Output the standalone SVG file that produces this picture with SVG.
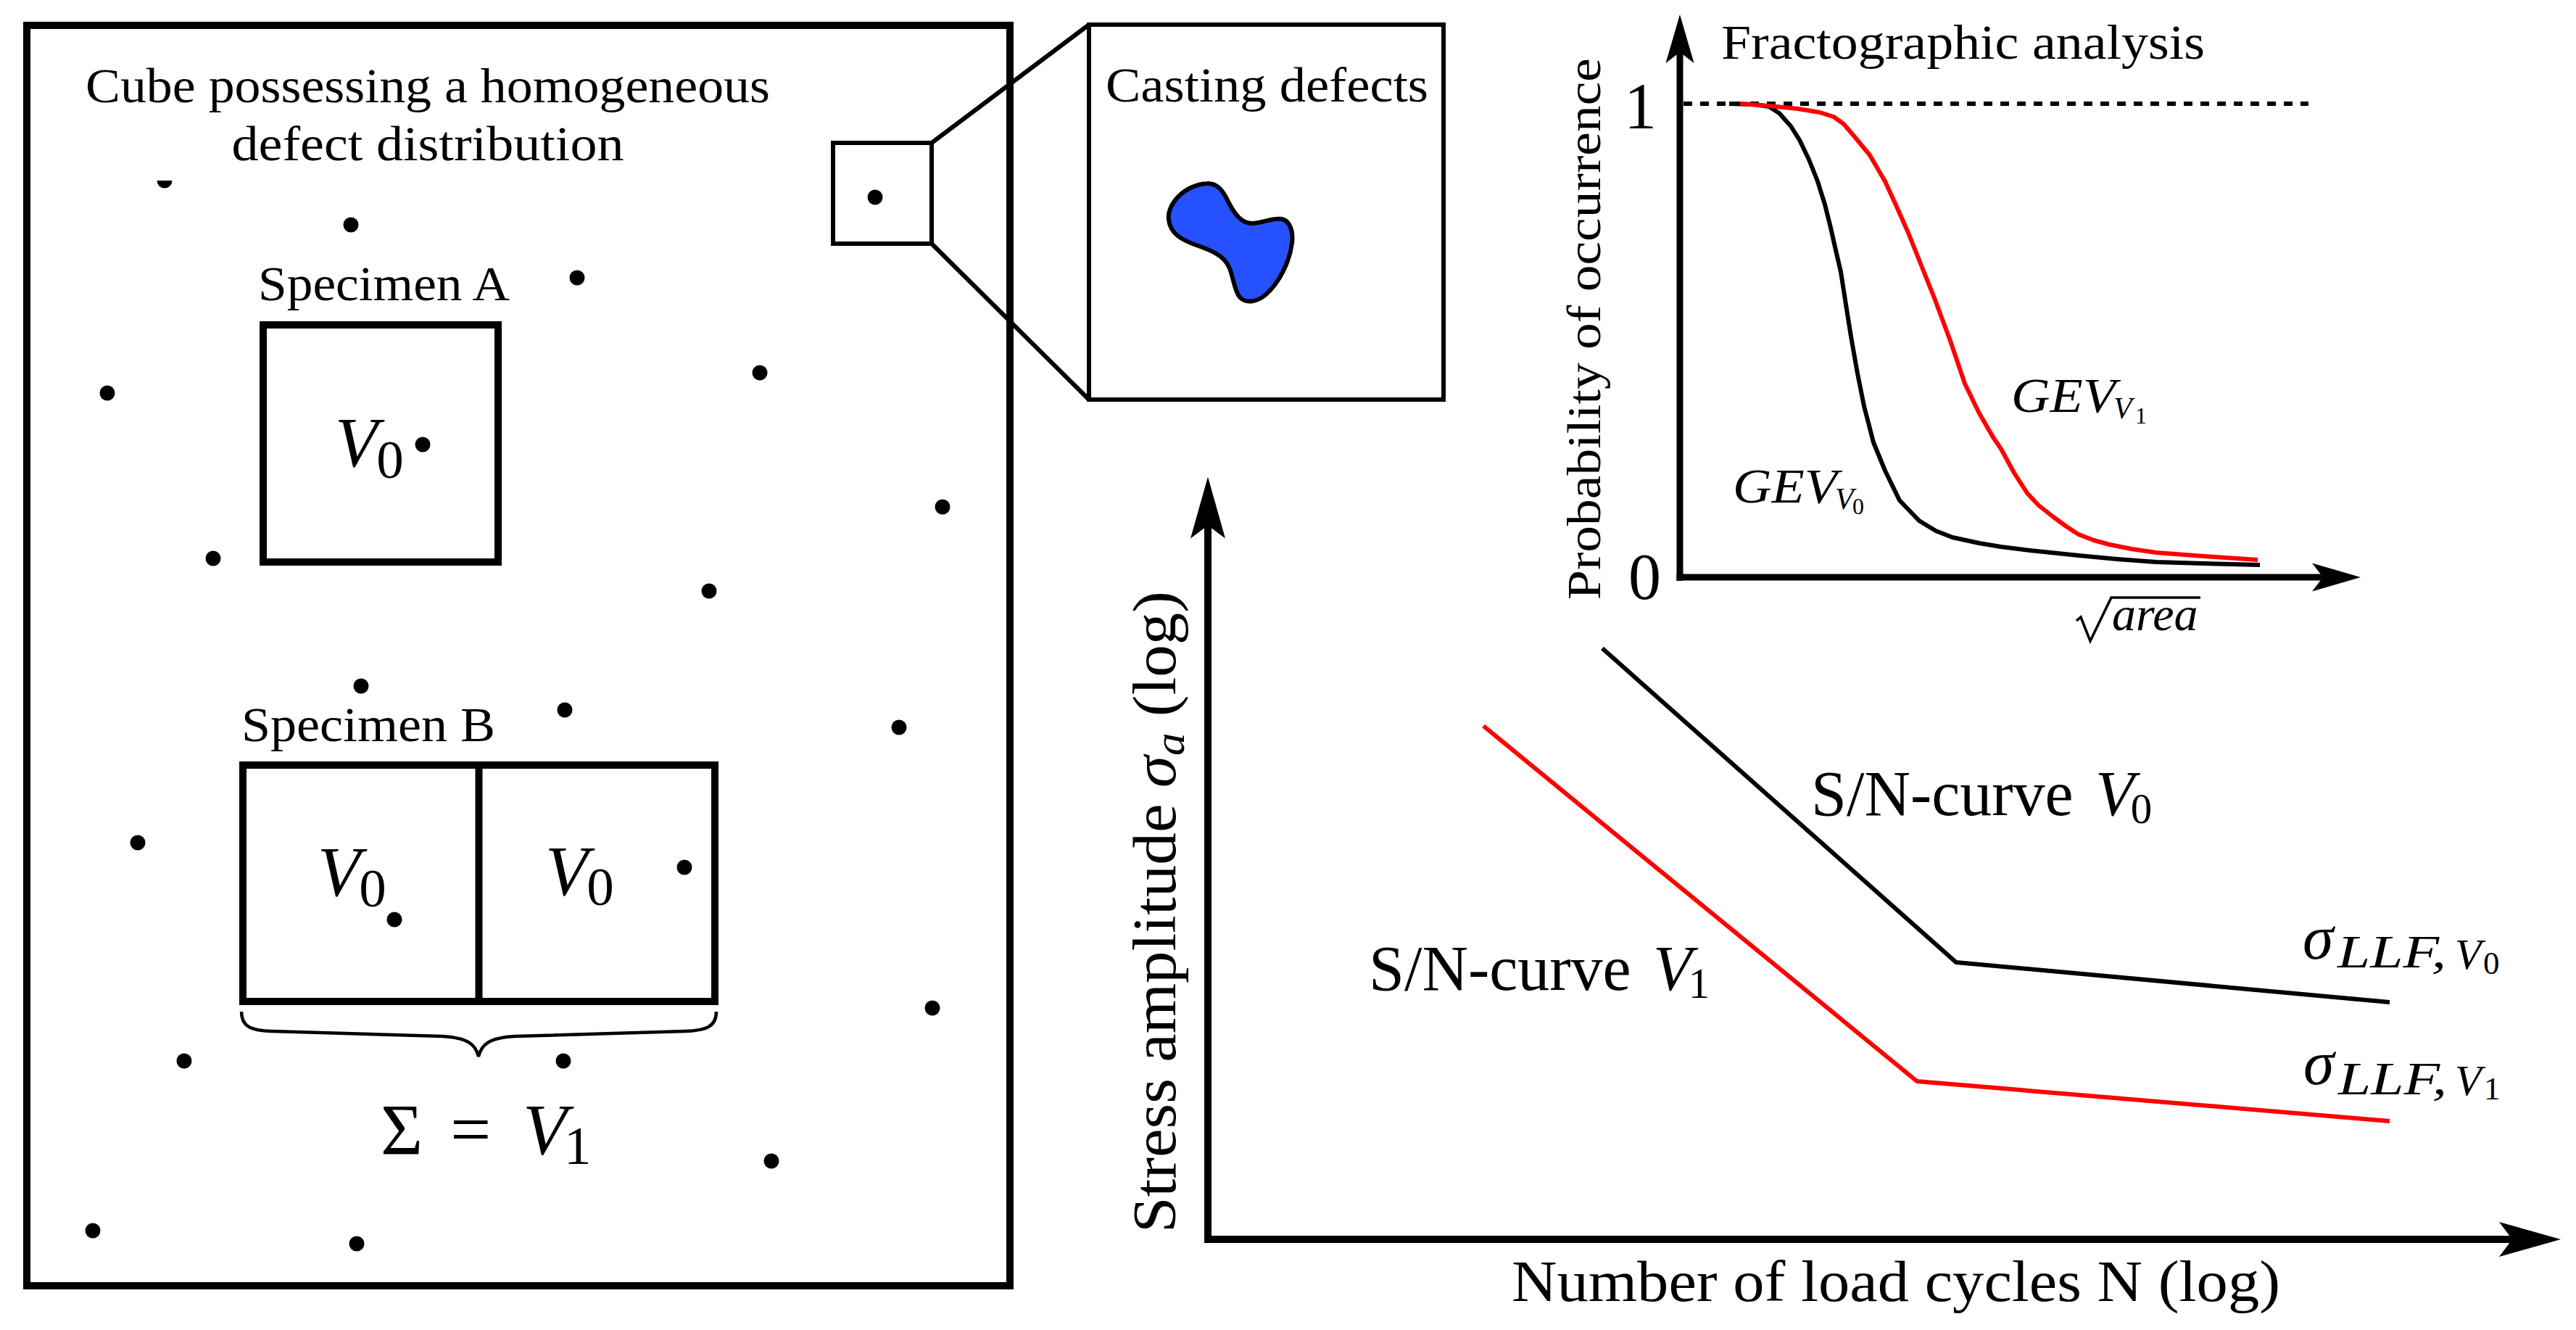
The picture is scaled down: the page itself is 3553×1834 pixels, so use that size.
<svg xmlns="http://www.w3.org/2000/svg" width="3553" height="1834" viewBox="0 0 3553 1834" font-family="'Liberation Serif', 'DejaVu Serif', serif">
<defs>
<style>
text, tspan { font-family: 'Liberation Serif', 'DejaVu Serif', serif; fill: #000; }
.it { font-style: italic; }
.up { font-style: normal; }
.box { fill: none; stroke: #000; }
.dot { fill: #000; }
.axis { stroke: #000; fill: none; }
.blk { stroke: #000; fill: none; stroke-width: 6; stroke-linejoin: round; stroke-linecap: butt; }
.red { stroke: #ff0000; fill: none; stroke-width: 6; stroke-linejoin: round; stroke-linecap: butt; }
</style>
<marker id="arrowL" markerUnits="userSpaceOnUse" viewBox="0 -24 85 48" refX="18" refY="0" markerWidth="85" markerHeight="48" orient="auto">
<path d="M85,0 L0,-24 L18,0 L0,24 Z" fill="#000"/>
</marker>
<marker id="arrowS" markerUnits="userSpaceOnUse" viewBox="0 -20 67 40" refX="15" refY="0" markerWidth="67" markerHeight="40" orient="auto">
<path d="M67,0 L0,-19.5 L15,0 L0,19.5 Z" fill="#000"/>
</marker>
</defs>
<rect x="0" y="0" width="3553" height="1834" fill="#fff"/>

<g id="cube">
<rect class="box" x="37" y="35" width="1356" height="1738" stroke-width="10"/>
<text x="590" y="141" font-size="67" text-anchor="middle" textLength="944" lengthAdjust="spacingAndGlyphs">Cube possessing a homogeneous</text>
<text x="590" y="221" font-size="67" text-anchor="middle" textLength="541" lengthAdjust="spacingAndGlyphs">defect distribution</text>
</g>

<g id="defects">
<path class="dot" d="M216.5,249 A10.5,10.5 0 0 0 237.5,249 Z"/>
<circle class="dot" cx="484" cy="310" r="10.5"/>
<circle class="dot" cx="796" cy="383" r="10.5"/>
<circle class="dot" cx="148" cy="542" r="10.5"/>
<circle class="dot" cx="1048" cy="514" r="10.5"/>
<circle class="dot" cx="583" cy="613" r="10.5"/>
<circle class="dot" cx="1300" cy="699" r="10.5"/>
<circle class="dot" cx="294" cy="770" r="10.5"/>
<circle class="dot" cx="978" cy="815" r="10.5"/>
<circle class="dot" cx="1207" cy="272" r="10.5"/>
<circle class="dot" cx="498" cy="946" r="10.5"/>
<circle class="dot" cx="779" cy="979" r="10.5"/>
<circle class="dot" cx="1240" cy="1003" r="10.5"/>
<circle class="dot" cx="190" cy="1162" r="10.5"/>
<circle class="dot" cx="944" cy="1196" r="10.5"/>
<circle class="dot" cx="544" cy="1268" r="10.5"/>
<circle class="dot" cx="1286" cy="1390" r="10.5"/>
<circle class="dot" cx="254" cy="1463" r="10.5"/>
<circle class="dot" cx="777" cy="1463" r="10.5"/>
<circle class="dot" cx="1064" cy="1601" r="10.5"/>
<circle class="dot" cx="128" cy="1697" r="10.5"/>
<circle class="dot" cx="492" cy="1715" r="10.5"/>
</g>

<g id="specimen-a">
<text x="356" y="414" font-size="67" textLength="347" lengthAdjust="spacingAndGlyphs">Specimen A</text>
<rect class="box" x="363" y="448" width="324" height="327" stroke-width="10"/>
<text x="462" y="643" font-size="97"><tspan class="it">V</tspan><tspan font-size="75" dx="-2" dy="16">0</tspan></text>
</g>

<g id="specimen-b">
<text x="333" y="1022" font-size="67" textLength="350" lengthAdjust="spacingAndGlyphs">Specimen B</text>
<rect class="box" x="335" y="1055" width="651" height="326" stroke-width="10"/>
<line x1="660.5" y1="1055" x2="660.5" y2="1381" stroke="#000" stroke-width="10"/>
<text x="438" y="1235" font-size="97"><tspan class="it">V</tspan><tspan font-size="75" dx="-2" dy="15">0</tspan></text>
<text x="752" y="1234" font-size="97"><tspan class="it">V</tspan><tspan font-size="75" dx="-2" dy="14">0</tspan></text>
<path d="M333,1395 C333,1415 345,1421 375,1422 L610,1429 C645,1431 656,1440 660,1457 C664,1440 675,1431 710,1429 L945,1422 C975,1421 988,1415 988,1395" fill="none" stroke="#000" stroke-width="4.5"/>
<text x="525" y="1591" font-size="100">Σ<tspan x="621">=</tspan><tspan class="it" x="721">V</tspan><tspan font-size="75" dx="-4" dy="14">1</tspan></text>
</g>

<g id="zoom-box">
<rect class="box" x="1149" y="197" width="136" height="139" stroke-width="6"/>
</g>

<g id="casting-defects">
<rect class="box" x="1502" y="34" width="489" height="517" stroke-width="6"/>
<text x="1525" y="140" font-size="67" textLength="445" lengthAdjust="spacingAndGlyphs">Casting defects</text>
<path d="M1665,253 C1680,252 1688,265 1695,280 C1703,295 1712,308 1727,308 C1740,308 1755,300 1768,302 C1780,305 1784,320 1782,335 C1779,360 1765,390 1745,407 C1735,415 1720,420 1710,410 C1702,400 1701,380 1695,368 C1688,352 1670,345 1650,338 C1630,331 1614,322 1612,303 C1610,285 1625,268 1640,260 C1650,255 1658,253 1665,253 Z" fill="#2651ff" stroke="#000" stroke-width="6"/>
</g>

<g id="fractographic-chart">
<text x="2374" y="81" font-size="67" textLength="667" lengthAdjust="spacingAndGlyphs">Fractographic analysis</text>
<text transform="translate(2207,827) rotate(-90)" font-size="66" textLength="747" lengthAdjust="spacingAndGlyphs">Probability of occurrence</text>
<text x="2240" y="177" font-size="90">1</text>
<text x="2246" y="826" font-size="90">0</text>
<line x1="2322" y1="143" x2="3184" y2="143" stroke="#000" stroke-width="6" stroke-dasharray="12 11"/>
<polyline class="blk" points="2385,143 2420,144 2440,147 2454,156 2470,174 2482,193 2495,220 2507,250 2517,282 2525,314 2532,345 2539,375 2546,420 2553,464 2562,515 2571,560 2584,610 2600,649 2620,690 2647,718 2670,732 2693,741 2730,749 2760,754 2800,759 2867,766 2920,771 2974,775 3040,777 3117,779"/>
<polyline class="red" points="2400,143 2440,146 2480,150 2510,155 2529,161 2543,171 2560,191 2579,214 2600,250 2616,285 2632,321 2650,366 2668,411 2690,470 2710,529 2730,570 2749,603 2760,619 2778,652 2796,680 2812,697 2831,712 2850,726 2867,737 2888,745 2910,751 2940,757 2974,762 3040,767 3114,772"/>
<text class="it" x="2774" y="568" font-size="68"><tspan textLength="144" lengthAdjust="spacingAndGlyphs">GEV</tspan><tspan font-size="42" x="2915" dy="9">V</tspan><tspan class="up" font-size="32" x="2945" dy="7">1</tspan></text>
<text class="it" x="2390" y="693" font-size="68"><tspan textLength="144" lengthAdjust="spacingAndGlyphs">GEV</tspan><tspan font-size="42" x="2531" dy="9">V</tspan><tspan class="up" font-size="32" x="2555" dy="7">0</tspan></text>
<path d="M2864,856 L2870,851 L2883,884 L2912,824 L3035,824" fill="none" stroke="#000" stroke-width="3.5" stroke-linejoin="miter"/>
<text class="it" x="2913" y="869" font-size="66">area</text>
</g>

<g id="sn-chart">
<text transform="translate(1621,1700) rotate(-90)" font-size="84" textLength="885" lengthAdjust="spacingAndGlyphs">Stress amplitude <tspan class="it">σ</tspan><tspan class="it" font-size="60" dy="12">a</tspan><tspan dy="-12"> (log)</tspan></text>
<text x="2085" y="1794" font-size="80" textLength="1060" lengthAdjust="spacingAndGlyphs">Number of load cycles N (log)</text>
<polyline class="blk" points="2210,894 2698,1327 3296,1382"/>
<polyline class="red" points="2046,1001 2644,1491 3296,1546"/>
<text x="2498" y="1124" font-size="88">S/N-curve<tspan class="it" x="2890">V</tspan><tspan font-size="59" dx="-5" dy="11">0</tspan></text>
<text x="1888" y="1365" font-size="88">S/N-curve<tspan class="it" x="2280">V</tspan><tspan font-size="59" dx="-5" dy="11">1</tspan></text>
<text class="it" x="3176" y="1322" font-size="86">σ<tspan font-size="64" x="3224" dy="12" textLength="150" lengthAdjust="spacingAndGlyphs">LLF,</tspan><tspan font-size="60" x="3386" dy="2">V</tspan><tspan class="up" font-size="45" x="3425" dy="7">0</tspan></text>
<text class="it" x="3177" y="1495" font-size="86">σ<tspan font-size="64" x="3225" dy="14" textLength="150" lengthAdjust="spacingAndGlyphs">LLF,</tspan><tspan font-size="60" x="3386" dy="1">V</tspan><tspan class="up" font-size="45" x="3426" dy="6">1</tspan></text>
</g>

<g id="connectors">
<line x1="1285" y1="197" x2="1502" y2="34" stroke="#000" stroke-width="6"/>
<line x1="1285" y1="336" x2="1502" y2="551" stroke="#000" stroke-width="6"/>
<line class="axis" x1="2317" y1="801" x2="2317" y2="72" stroke-width="9" marker-end="url(#arrowS)"/>
<line class="axis" x1="2312.5" y1="796" x2="3204" y2="796" stroke-width="9" marker-end="url(#arrowS)"/>
<line class="axis" x1="1666" y1="1714" x2="1666" y2="724.5" stroke-width="10" marker-end="url(#arrowL)"/>
<line class="axis" x1="1661" y1="1709" x2="3465" y2="1709" stroke-width="10" marker-end="url(#arrowL)"/>
</g>
</svg>
